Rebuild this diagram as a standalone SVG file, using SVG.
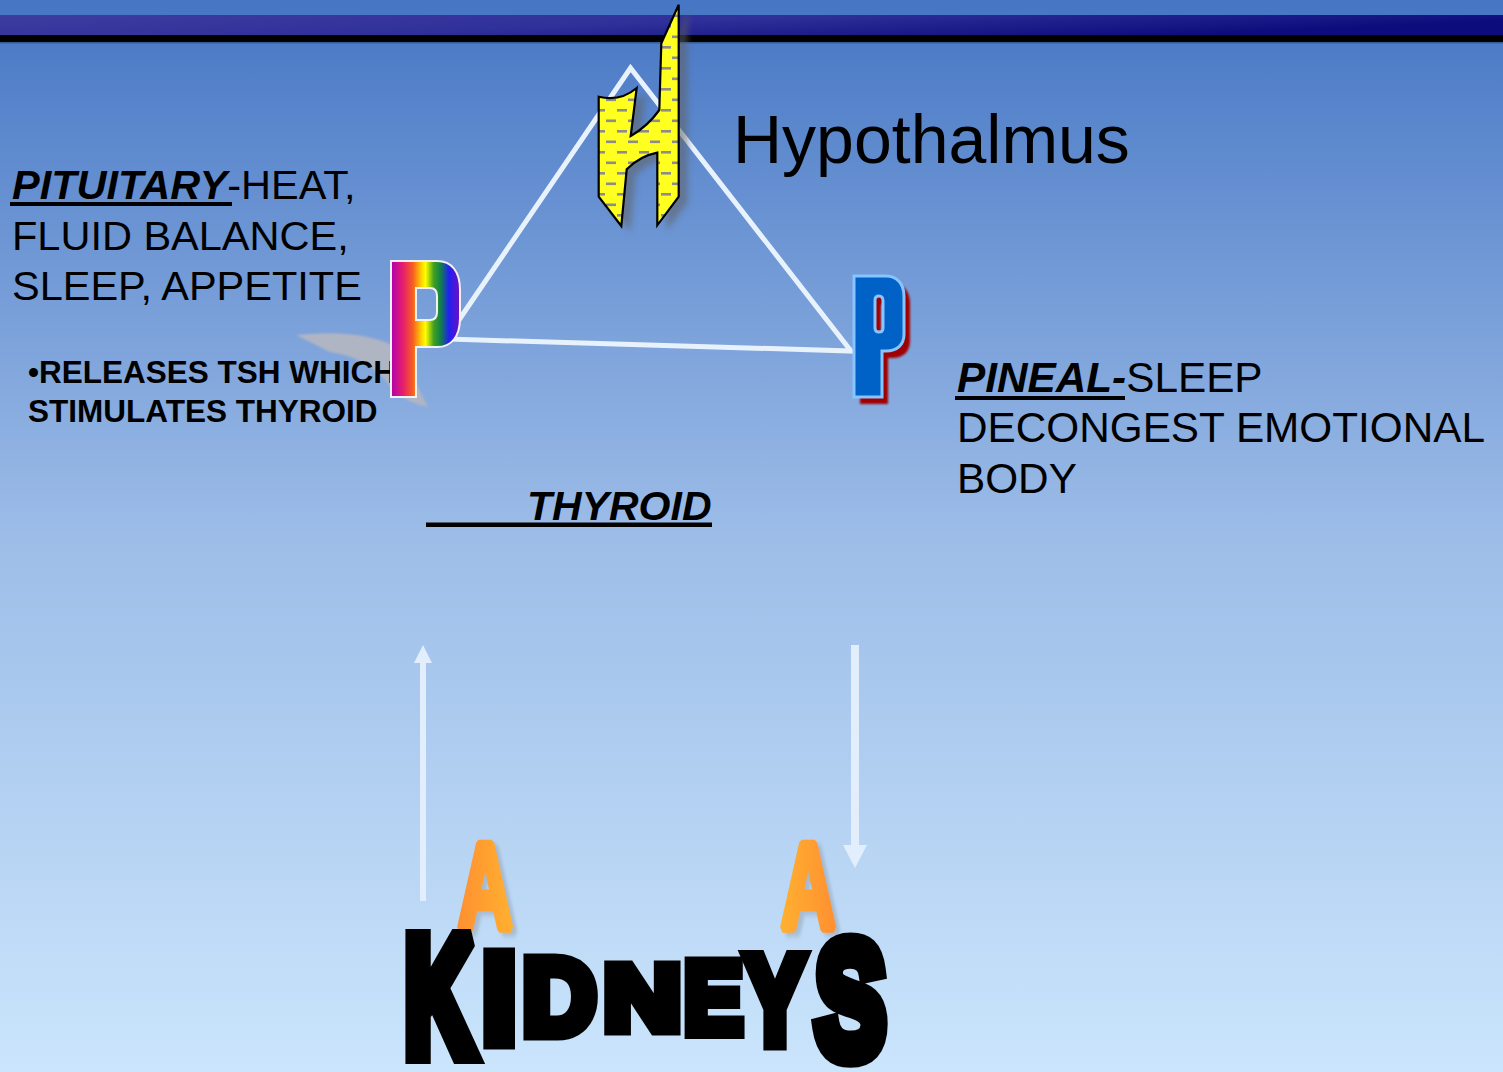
<svg xmlns="http://www.w3.org/2000/svg" width="1503" height="1072" viewBox="0 0 1503 1072">
<defs>
<linearGradient id="bg" x1="0" y1="0" x2="0" y2="1">
<stop offset="0" stop-color="#4676c4"/>
<stop offset="0.5" stop-color="#9dbde8"/>
<stop offset="1" stop-color="#cae5fc"/>
</linearGradient>
<linearGradient id="band" x1="0" y1="0" x2="1" y2="0.3">
<stop offset="0" stop-color="#3c3ca0"/>
<stop offset="0.5" stop-color="#30309a"/>
<stop offset="1" stop-color="#0c0c7c"/>
</linearGradient>
<linearGradient id="rainbow" x1="391" y1="0" x2="460" y2="0" gradientUnits="userSpaceOnUse">
<stop offset="0" stop-color="#b000b0"/>
<stop offset="0.18" stop-color="#e8206a"/>
<stop offset="0.32" stop-color="#f86020"/>
<stop offset="0.44" stop-color="#ffd000"/>
<stop offset="0.5" stop-color="#ffff00"/>
<stop offset="0.62" stop-color="#40a020"/>
<stop offset="0.72" stop-color="#10804a"/>
<stop offset="0.84" stop-color="#2020f0"/>
<stop offset="1" stop-color="#7010c0"/>
</linearGradient>
<linearGradient id="orangeL" x1="0" y1="0" x2="1" y2="0">
<stop offset="0" stop-color="#ff9030"/>
<stop offset="1" stop-color="#ffb030"/>
</linearGradient>
<linearGradient id="orangeR" x1="0" y1="0" x2="1" y2="0">
<stop offset="0" stop-color="#ffb030"/>
<stop offset="1" stop-color="#ff9030"/>
</linearGradient>
<pattern id="dash" x="0" y="0" width="22" height="21" patternUnits="userSpaceOnUse">
<rect width="22" height="21" fill="#ffff20"/>
<rect x="1" y="4" width="10" height="2.6" fill="#8c8c8c"/>
<rect x="12" y="14.5" width="10" height="2.6" fill="#8c8c8c"/>
</pattern>
<filter id="blur3" x="-20%" y="-20%" width="140%" height="140%"><feGaussianBlur stdDeviation="3"/></filter>
<filter id="blur1" x="-20%" y="-20%" width="140%" height="140%"><feGaussianBlur stdDeviation="1.2"/></filter>
<filter id="blur2" x="-20%" y="-20%" width="140%" height="140%"><feGaussianBlur stdDeviation="2"/></filter>
<path id="hshape" d="M678.7,4.7 L678.7,196.7 L657.3,225.3 L657.3,152.7 Q640,156 626.7,169.3 L621.3,226 L598.7,196.7 L598.7,96.7 Q620,102 636.7,88 L630.7,136 Q648,126 659.3,110 L661.3,43.3 Z"/>
<path id="pblue" fill-rule="evenodd" d="M854,276 H886 C897,276 904,284 904,296 V334 C904,345 897,351 886,351 H882 V397 H854 Z M875,300 C875,297 877,296 879,296 C882,296 883,298 883,301 V328 C883,331 882,332 879,332 C877,332 875,331 875,328 Z"/>
</defs>
<style>
text{font-family:"Liberation Sans",Arial,sans-serif;fill:#000}
.bi{font-weight:bold;font-style:italic}
.b{font-weight:bold}
.tri{fill:none;stroke:#e8f2fd;stroke-width:5}
.arrow{fill:#e2eefc}
.kid{font-weight:bold;font-size:100px;stroke:#000;stroke-width:12;stroke-linejoin:miter;stroke-miterlimit:2.5}
.orA{font-weight:bold;font-size:100px;stroke-width:7;stroke-linejoin:miter;stroke-miterlimit:1}
text.aL{fill:url(#orangeL);stroke:url(#orangeL)}
text.aR{fill:url(#orangeR);stroke:url(#orangeR)}
text.aS{fill:#8a8f9a;stroke:#8a8f9a;opacity:0.4}
</style>

<rect width="1503" height="1072" fill="url(#bg)"/>
<g id="header">
<rect x="0" y="15" width="1503" height="20" fill="url(#band)"/>
<rect x="0" y="35" width="1503" height="7" fill="#000"/>
<rect x="0" y="42" width="1503" height="1.5" fill="#2a4578" opacity="0.6"/>
</g>

<path id="swoosh" d="M296,335 Q362,328 398,348 L428,407 Q404,402 392,388 Q368,357 330,352 Z" fill="#b2b6c2" opacity="0.95" filter="url(#blur1)"/>

<g id="pituitary-text">
<text font-size="41.5" x="12" y="199"><tspan class="bi">PITUITARY</tspan>-HEAT,</text>
<rect x="10" y="202" width="222" height="4"/>
<text font-size="41.5" x="12" y="250">FLUID BALANCE,</text>
<text font-size="41.5" x="12" y="300">SLEEP, APPETITE</text>
<text class="b" font-size="31.5" x="28" y="383">•RELEASES TSH WHICH</text>
<text class="b" font-size="31.5" x="28" y="422">STIMULATES THYROID</text>
</g>

<g id="hypothalamus-label">
<text font-size="68" x="733" y="163">Hypothalmus</text>
</g>

<g id="pineal-text">
<text font-size="42.3" x="957" y="392"><tspan class="bi">PINEAL-</tspan>SLEEP</text>
<rect x="955" y="396" width="170" height="4"/>
<text font-size="42.3" x="957" y="442">DECONGEST EMOTIONAL</text>
<text font-size="42.3" x="957" y="493">BODY</text>
</g>

<g id="thyroid">
<text class="bi" font-size="41" x="527" y="520">THYROID</text>
<rect x="426" y="522.5" width="286" height="4.5"/>
</g>

<g id="connectors">
<path class="tri" d="M446,339 L630.5,68 L851,351 Z"/>
<rect class="arrow" x="420" y="662" width="6" height="239"/>
<polygon class="arrow" points="423,645 432,663 414,663"/>
<rect class="arrow" x="851" y="645" width="8" height="201"/>
<polygon class="arrow" points="843,845 867,845 855,868"/>
</g>

<g id="pituitary-P">
<path fill-rule="evenodd" fill="url(#rainbow)" stroke="#f2f2f2" stroke-width="2" d="M391,261 H437 C452,261 460,272 460,290 V318 C460,336 452,347 437,347 H416 V397 H391 Z M416,288 H430 C435,288 437,291 437,296 V312 C437,317 435,320 430,320 H416 Z"/>
</g>

<g id="pineal-P">
<use href="#pblue" transform="translate(6,7)" fill="#a00000" filter="url(#blur1)"/>
<use href="#pblue" fill="#0062c6" stroke="#88c4ff" stroke-width="3"/>
</g>

<g id="hypothalamus-H">
<use href="#hshape" transform="translate(9,6)" fill="#606060" opacity="0.55" filter="url(#blur3)"/>
<use href="#hshape" fill="url(#dash)" stroke="#000" stroke-width="2.2" stroke-linejoin="miter"/>
</g>

<g id="adrenals">
<text class="orA aS" transform="translate(462,933) scale(0.76,1.22)" filter="url(#blur2)">A</text>
<text class="orA aL" transform="translate(457.7,928.7) scale(0.76,1.22)">A</text>
<text class="orA aS" transform="translate(785,933) scale(0.76,1.22)" filter="url(#blur2)">A</text>
<text class="orA aR" transform="translate(780.7,928.7) scale(0.76,1.22)">A</text>
</g>

<g id="kidneys">
<text class="kid" transform="translate(404.8,1054) scale(0.96,1.675)">K</text>
<text class="kid" transform="translate(482.5,1042.4) scale(1.2,1.268)">I</text>
<text class="kid" transform="translate(522.7,1033.5) scale(1.015,1.077)">D</text>
<text class="kid" transform="translate(603.6,1029.5) scale(1.078,0.921)">N</text>
<text class="kid" transform="translate(683.9,1032.9) scale(0.88,1.017)">E</text>
<text class="kid" transform="translate(745.6,1042.5) scale(0.884,1.244)">Y</text>
<text class="kid" transform="translate(815.4,1056.3) scale(1.05,1.63)">S</text>
</g>
</svg>
